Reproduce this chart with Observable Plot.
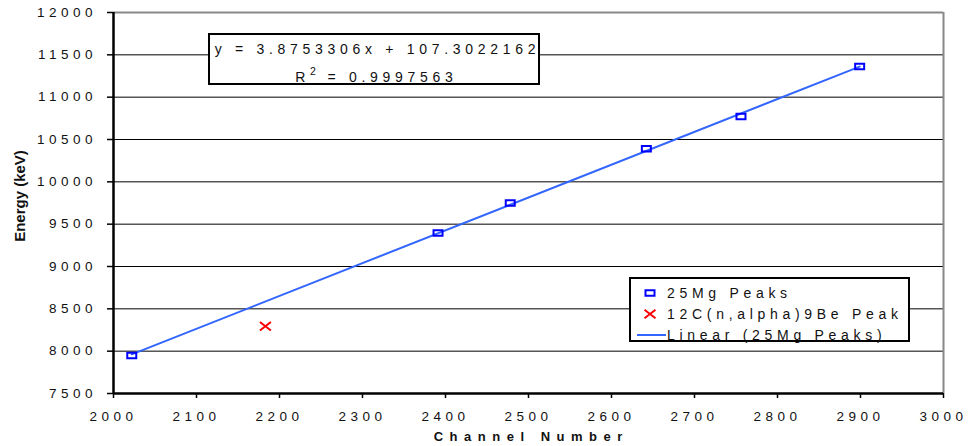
<!DOCTYPE html>
<html><head><meta charset="utf-8">
<script src="https://cdn.jsdelivr.net/npm/d3@7"></script>
<script src="https://cdn.jsdelivr.net/npm/@observablehq/plot@0.6"></script>
<style>
body{margin:0;background:#fff;font-family:"Liberation Sans",Arial,sans-serif;}
#wrap{position:relative;width:968px;height:446px;overflow:hidden;}
#wrap svg.chart{position:absolute;left:0;top:0;}
.ls{letter-spacing:4.7px;font-size:14px;color:#111;}
#eq{position:absolute;left:208px;top:33px;width:332px;height:52px;box-sizing:border-box;border:2px solid #000;background:#fff;text-align:center;}
#eq div{position:absolute;left:0;width:100%;padding-left:4.7px;box-sizing:border-box;line-height:16px;white-space:nowrap;}
#eq sup{font-size:10.5px;vertical-align:7px;letter-spacing:3px;}
#legend{position:absolute;left:629px;top:277px;width:281px;height:65px;box-sizing:border-box;border:2px solid #000;background:#fff;}
#legend .row{position:absolute;left:0;width:100%;height:20px;}
#legend .row span{position:absolute;left:36px;top:1px;line-height:18px;white-space:nowrap;}
#legend .row svg{position:absolute;left:2px;top:0;}
#xt{position:absolute;left:0;width:1056px;top:428px;text-align:center;font-weight:bold;font-size:13px;letter-spacing:6.5px;color:#111;padding-left:6.5px;box-sizing:border-box;line-height:18px;}
#yt{position:absolute;left:19px;top:196px;transform:translate(-50%,-50%) rotate(-90deg);font-weight:bold;font-size:15px;color:#111;white-space:nowrap;}
</style></head><body><div id="wrap"></div>
<script>
// 25Mg peaks (channel, energy keV)
const mgChannel = [2022, 2391, 2478, 2642, 2756, 2899];
const mgEnergy = [7950, 9395, 9750, 10390, 10772, 11362];
// 12C(n,alpha)9Be peak
const beChannel = [2183];
const beEnergy = [8294];
const xTicks = [2000, 2100, 2200, 2300, 2400, 2500, 2600, 2700, 2800, 2900, 3000];
const yTicks = [7500, 8000, 8500, 9000, 9500, 10000, 10500, 11000, 11500, 12000];
const equationText = "y = 3.8753306x + 107.3022162";
const r2Value = "0.9997563";
const legendLabels = ["25Mg Peaks", "12C(n,alpha)9Be Peak", "Linear (25Mg Peaks)"];
const xTitle = "Channel Number";
const yTitle = "Energy (keV)";

const mg = mgChannel.map((c, i) => ({channel: c, energy: mgEnergy[i]}));
const be = beChannel.map((c, i) => ({channel: c, energy: beEnergy[i]}));

const rectSymbol = {draw(ctx) { ctx.rect(-4.5, -2.75, 9, 5.5); }};
const crossSymbol = {draw(ctx) { ctx.moveTo(-5.5, -4.2); ctx.lineTo(5.5, 4.2); ctx.moveTo(-5.5, 4.2); ctx.lineTo(5.5, -4.2); }};
const blue = "#0000ff", red = "#ff0000", lineBlue = "#3366ff";

const chart = Plot.plot({
  width: 968, height: 446,
  marginLeft: 113, marginRight: 25, marginTop: 12, marginBottom: 53,
  x: {domain: [xTicks[0], xTicks[xTicks.length - 1]]},
  y: {domain: [yTicks[0], yTicks[yTicks.length - 1]]},
  style: {fontFamily: "'Liberation Sans', Arial, sans-serif", fontSize: "13.5px", letterSpacing: "4.5px", color: "#111", background: "#fff"},
  marks: [
    Plot.ruleY(yTicks.slice(0, -1), {stroke: "#000", strokeWidth: 1}),
    Plot.ruleY([yTicks[yTicks.length - 1]], {stroke: "#888", strokeWidth: 2}),
    Plot.ruleX([xTicks[xTicks.length - 1]], {stroke: "#888", strokeWidth: 2}),
    Plot.axisY(yTicks, {tickSize: 6, tickPadding: 10.5, tickFormat: d => String(d), strokeWidth: 1.5, stroke: "#000", fill: "#111", label: null}),
    Plot.axisX(xTicks, {tickSize: 5, tickPadding: 13, tickFormat: d => String(d), strokeWidth: 1.5, stroke: "#000", fill: "#111", label: null}),
    Plot.ruleX([xTicks[0]], {stroke: "#000", strokeWidth: 2.5}),
    Plot.ruleY([yTicks[0]], {stroke: "#000", strokeWidth: 2.5}),
    Plot.linearRegressionY(mg, {x: "channel", y: "energy", stroke: lineBlue, strokeWidth: 2, ci: 0}),
    Plot.dot(mg, {x: "channel", y: "energy", symbol: rectSymbol, stroke: blue, strokeWidth: 2, fill: "none"}),
    Plot.dot(be, {x: "channel", y: "energy", symbol: crossSymbol, stroke: red, strokeWidth: 2, fill: "none"})
  ]
});
chart.classList.add("chart");
const wrap = document.getElementById("wrap");
wrap.appendChild(chart);

// equation box
const eq = document.createElement("div");
eq.id = "eq"; eq.className = "ls";
eq.innerHTML = `<div style="top:6px">${equationText}</div><div style="top:28px">R<sup>2</sup> = ${r2Value}</div>`;
wrap.appendChild(eq);

// legend
const lg = document.createElement("div");
lg.id = "legend"; lg.className = "ls";
const rowTops = [4, 25, 46];
legendLabels.forEach((lab, i) => {
  const row = document.createElement("div");
  row.className = "row";
  row.style.top = rowTops[i] + "px";
  const s = d3.create("svg").attr("width", 34).attr("height", 20);
  if (i === 0) s.append("rect").attr("x", 12.5).attr("y", 7.25).attr("width", 9).attr("height", 5.5).attr("fill", "none").attr("stroke", blue).attr("stroke-width", 2);
  if (i === 1) s.append("path").attr("d", "M-5.5,-4.2L5.5,4.2M-5.5,4.2L5.5,-4.2").attr("transform", "translate(17,10)").attr("stroke", red).attr("stroke-width", 2).attr("fill", "none");
  if (i === 2) s.append("line").attr("x1", 4).attr("x2", 33).attr("y1", 10).attr("y2", 10).attr("stroke", lineBlue).attr("stroke-width", 2);
  row.appendChild(s.node());
  const sp = document.createElement("span");
  sp.textContent = lab;
  row.appendChild(sp);
  lg.appendChild(row);
});
wrap.appendChild(lg);

// axis titles
const xt = document.createElement("div"); xt.id = "xt"; xt.textContent = xTitle; wrap.appendChild(xt);
const yt = document.createElement("div"); yt.id = "yt"; yt.textContent = yTitle; wrap.appendChild(yt);
</script></body></html>
